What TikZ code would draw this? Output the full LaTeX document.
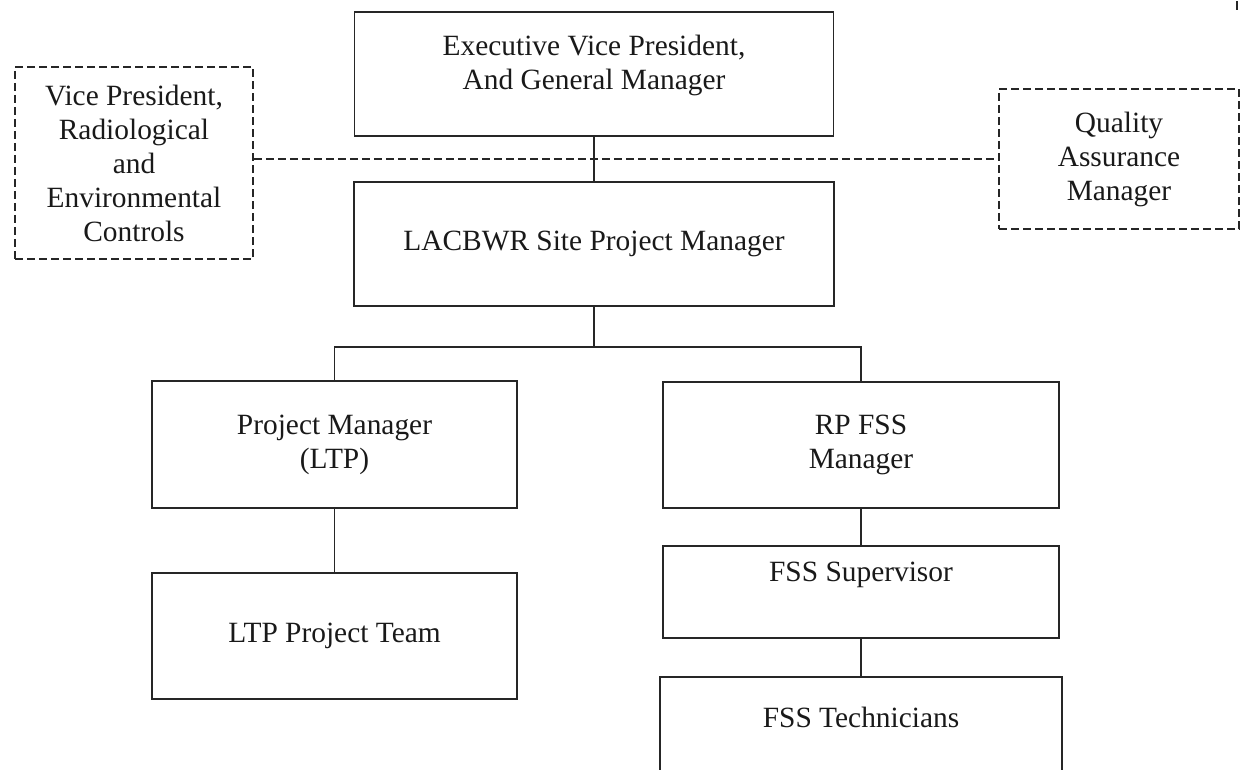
\documentclass[tikz,border=0pt]{standalone}
\usepackage{fontspec}
\setmainfont{Liberation Serif}
\usetikzlibrary{positioning}
\tikzset{
    orgbox/.style={
        draw=black!85,
        line width=1.8pt,
        rectangle,
        align=center,
        inner sep=0pt,
        font=\fontsize{29.4}{34}\selectfont,
        text=black!90
    },
    dashbox/.style={
        orgbox,
        dash pattern=on 8pt off 4pt
    },
    link/.style={
        draw=black!85,
        line width=1.6pt
    }
}

\begin{document}
\begin{tikzpicture}[x=1pt,y=-1pt]
    \useasboundingbox (0,0) rectangle (1241,770);
    \clip (0,0) rectangle (1241,770);

    % top of the chart
    \node[orgbox, minimum width=479pt, minimum height=124pt, text depth=24pt] (evp) at (594,74) {Executive Vice President,\\And General Manager};
    \node[orgbox, minimum width=480pt, minimum height=124pt] (site) at (594,244) {LACBWR Site Project Manager};
    \node[dashbox, minimum width=238pt, minimum height=192pt] (vprec) at (134,163) {Vice President,\\Radiological\\and\\Environmental\\Controls};
    \node[dashbox, minimum width=240pt, minimum height=140pt] (qa) at (1119,159) {Quality\\Assurance\\Manager};

    % left branch
    \node[orgbox, minimum width=365pt, minimum height=127pt] (pm) at (334.5,444.5) {Project Manager\\(LTP)};
    \node[orgbox, minimum width=365pt, minimum height=126pt] (team) at (334.5,636) {LTP Project Team};

    % right branch
    \node[orgbox, minimum width=396pt, minimum height=126pt] (rpfss) at (861,445) {RP FSS\\Manager};
    \node[orgbox, minimum width=396pt, minimum height=92pt, text depth=40pt] (sup) at (861,592) {FSS Supervisor};
    \node[orgbox, minimum width=402pt, minimum height=120pt, text depth=40pt] (tech) at (861,737) {FSS Technicians};

    \coordinate (split) at (594,347);
    \coordinate (mark) at (1237,10);

    \draw[link] (evp) -- (site);
    \draw[link, dash pattern=on 8pt off 4pt] (vprec.east |- qa.west) -- (qa.west);
    \draw[link] (site) -- (split);
    \draw[link] (pm.north) |- (split) -| (rpfss.north);
    \draw[link] (pm) -- (team);
    \draw[link] (rpfss) -- (sup);
    \draw[link] (sup) -- (tech);
    \draw[link] (mark) -- ++(0,-9);
\end{tikzpicture}
\end{document}
